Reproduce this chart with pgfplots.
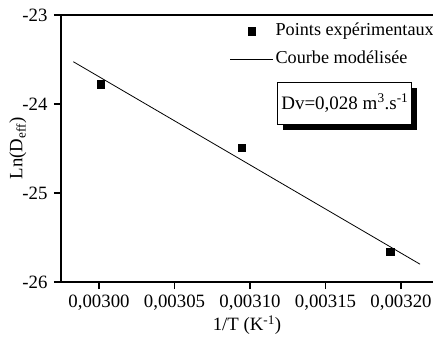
\documentclass[border=0pt]{standalone}
\usepackage{fontspec}
\setmainfont{Liberation Serif}
\usepackage{pgfplots}
\pgfplotsset{compat=1.18}
\usetikzlibrary{shadows}
\pgfplotsset{
  sqleg/.style={legend image code/.code={\path[draw=none, fill=none, mark=none] (0pt,-0.1pt) rectangle (43pt,0.1pt); \draw[black, mark=square*, mark size=3.8pt, only marks] plot coordinates {(21.5pt,0pt)};}},
  lnleg/.style={legend image code/.code={\draw[black, line width=0.8pt] (0pt,0pt) -- (43pt,0pt);}},
}
\begin{document}
\fontsize{18.8}{22}\selectfont
\begin{tikzpicture}
\begin{axis}[
  at={(0,0)}, anchor=south west,
  scale only axis, width=372pt, height=267pt,
  xmin=0.00297483, xmax=0.00322119, ymin=-26, ymax=-23,
  axis x line*=box, axis y line*=left,
  xtick pos=bottom, ytick pos=left,
  tick align=outside, major tick length=7pt,
  axis line style={line width=1.6pt},
  every tick/.style={black, line width=1.6pt},
  scaled x ticks=false,
  xtick={0.003,0.00305,0.0031,0.00315,0.0032},
  xticklabels={{0,00300},{0,00305},{0,00310},{0,00315},{0,00320}},
  ytick={-26,-25,-24,-23},
  yticklabels={-26,-25,-24,-23},
  xlabel={1/T (K\textsuperscript{-1})},
  ylabel={Ln(D\textsubscript{eff})},
  xlabel style={at={(axis description cs:0.5,0)}, anchor=center, yshift=-43pt},
  ylabel style={at={(axis description cs:-0.116,0.5)}, anchor=center},
  legend cell align=left,
  legend style={draw=none, fill=none, at={(rel axis cs:1,1)}, anchor=north east,
    yshift=-4pt, xshift=6pt, row sep=8.5pt, font=\fontsize{18.2}{22}\selectfont},
]
\addplot[only marks, mark=square*, mark size=3.8pt, black, sqleg]
  coordinates {(0.003001,-23.78) (0.0030945,-24.49) (0.003193,-25.66)};
\addlegendentry{Points expérimentaux}
\addplot[black, line width=0.8pt, no marks, lnleg]
  coordinates {(0.002983,-23.525) (0.0032126,-25.80)};
\addlegendentry{Courbe modélisée}
\node[draw, fill=white, line width=0.8pt, minimum width=134pt, minimum height=42pt,
  inner sep=0pt, font=\fontsize{19}{22}\selectfont,
  drop shadow={shadow xshift=5.5pt, shadow yshift=-5.5pt, opacity=1, fill=black}]
  at (rel axis cs:0.763,0.670) {Dv=0,028 m\textsuperscript{3}.s\textsuperscript{-1}};
\end{axis}
\pgfresetboundingbox
\useasboundingbox (-61pt,-60pt) rectangle (372pt,282pt);
\end{tikzpicture}
\end{document}
